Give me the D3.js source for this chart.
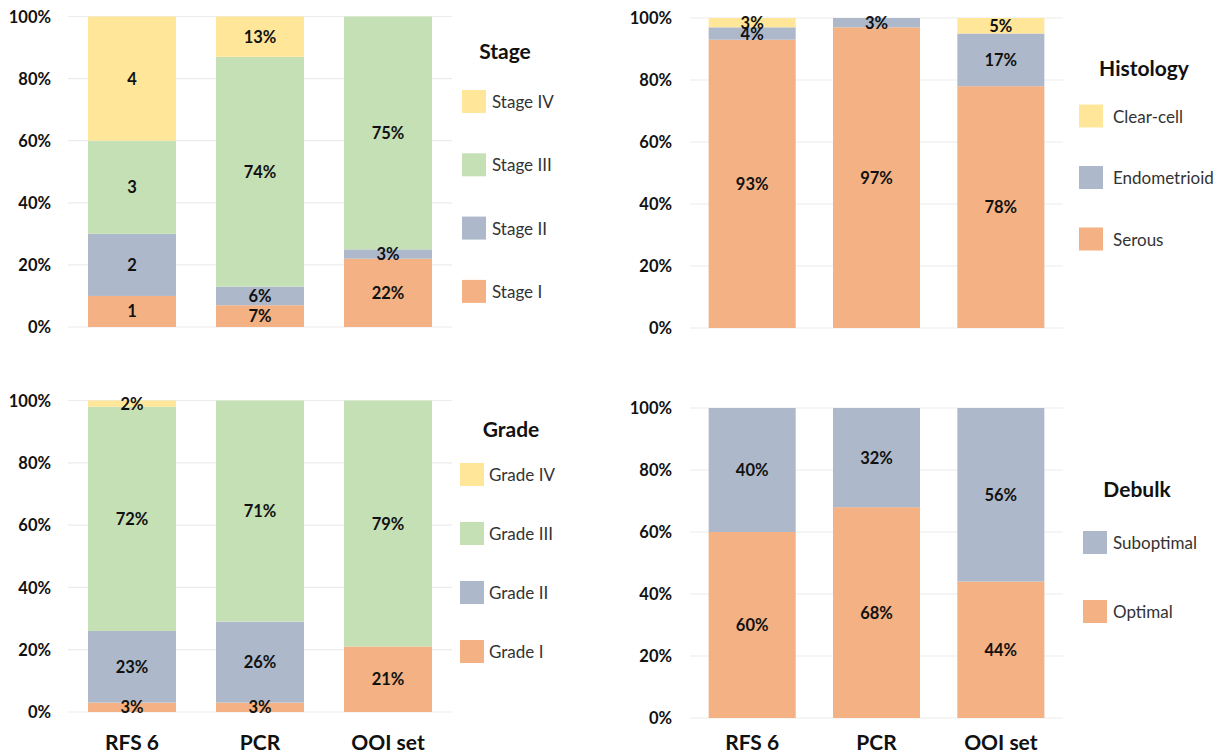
<!DOCTYPE html>
<html>
<head>
<meta charset="utf-8">
<script src="https://cdn.jsdelivr.net/npm/d3@7"></script>
<style>
  html, body { margin: 0; padding: 0; background: #ffffff; }
  svg { display: block; font-family: Lato, "Open Sans", sans-serif; }
</style>
</head>
<body>
<svg id="chart" width="1230" height="753"></svg>
<script>
// Cohorts compared in every panel
const categories = ["RFS 6", "PCR", "OOI set"];
const yTicks = [0, 0.2, 0.4, 0.6, 0.8, 1];

// Stage (RFS 6 column is given as patient counts, the others as percentages)
const stageSeries = ["Stage I", "Stage II", "Stage III", "Stage IV"];
const stageI = [1, 7, 22];
const stageII = [2, 6, 3];
const stageIII = [3, 74, 75];
const stageIV = [4, 13, 0];
const stageUnits = ["", "%", "%"];

// Histology (%)
const histologySeries = ["Serous", "Endometrioid", "Clear-cell"];
const serous = [93, 97, 78];
const endometrioid = [4, 3, 17];
const clearCell = [3, 0, 5];

// Grade (%)
const gradeSeries = ["Grade I", "Grade II", "Grade III", "Grade IV"];
const gradeI = [3, 3, 21];
const gradeII = [23, 26, 0];
const gradeIII = [72, 71, 79];
const gradeIV = [2, 0, 0];

// Debulking (%)
const debulkSeries = ["Optimal", "Suboptimal"];
const optimal = [60, 68, 44];
const suboptimal = [40, 32, 56];

const pctUnits = ["%", "%", "%"];

const COLORS = {
  orange: "#F4B183",
  blue: "#ADB9CA",
  green: "#C5E0B4",
  yellow: "#FFE699"
};

const svg = d3.select("#chart");

function drawPanel(cfg) {
  const g = svg.append("g");
  const rows = categories.map((c, i) => {
    const r = { category: c, index: i };
    cfg.series.forEach((s, k) => { r[s] = cfg.values[k][i]; });
    return r;
  });

  const x = d3.scaleBand()
    .domain(categories)
    .range(cfg.xRange)
    .paddingInner(cfg.padding)
    .paddingOuter(cfg.padding / 2);

  const y = d3.scaleLinear().domain([0, 1]).range(cfg.yRange);

  // horizontal gridlines
  g.append("g").selectAll("line")
    .data(yTicks)
    .join("line")
    .attr("x1", cfg.xRange[0])
    .attr("x2", cfg.xRange[1])
    .attr("y1", d => y(d))
    .attr("y2", d => y(d))
    .attr("stroke", "#ececec")
    .attr("stroke-width", 1.2);

  // y axis tick labels
  const yAxis = d3.axisLeft(y)
    .tickValues(yTicks)
    .tickFormat(d3.format(".0%"))
    .tickSize(0)
    .tickPadding(0);
  const ay = g.append("g")
    .attr("transform", `translate(${cfg.tickRight},0)`)
    .call(yAxis);
  ay.select(".domain").remove();
  ay.selectAll("text")
    .attr("font-family", "Lato, sans-serif")
    .attr("font-size", 16.5)
    .attr("font-weight", 700)
    .attr("fill", "#111")
    .attr("dy", "0.35em");

  // normalised stacks
  const stack = d3.stack().keys(cfg.series).offset(d3.stackOffsetExpand);
  const layers = stack(rows);

  const layerG = g.append("g").selectAll("g")
    .data(layers)
    .join("g")
    .attr("fill", (d, i) => cfg.colors[i]);

  layerG.selectAll("rect")
    .data(d => d.map(p => ({ p, key: d.key })))
    .join("rect")
    .attr("x", d => x(d.p.data.category))
    .attr("width", x.bandwidth())
    .attr("y", d => y(d.p[1]))
    .attr("height", d => Math.max(0, y(d.p[0]) - y(d.p[1])));

  // value labels centred in each segment
  const labelG = g.append("g");
  layers.forEach(layer => {
    layer.forEach(p => {
      const v = p.data[layer.key];
      if (!v) return;
      labelG.append("text")
        .attr("x", x(p.data.category) + x.bandwidth() / 2)
        .attr("y", y((p[0] + p[1]) / 2))
        .attr("text-anchor", "middle")
        .attr("dominant-baseline", "central")
        .attr("font-family", "Lato, sans-serif")
        .attr("font-size", 16.5)
        .attr("font-weight", 700)
        .attr("fill", "#111")
        .text(v + cfg.units[p.data.index]);
    });
  });

  // category axis (bottom row only)
  if (cfg.showCategories) {
    const xAxis = d3.axisBottom(x).tickSize(0).tickPadding(0);
    const ax = g.append("g")
      .attr("transform", `translate(0,${cfg.categoryY})`)
      .call(xAxis);
    ax.select(".domain").remove();
    ax.selectAll("text")
      .attr("font-family", "Lato, sans-serif")
      .attr("font-size", 21)
      .attr("font-weight", 700)
      .attr("fill", "#111")
      .attr("dy", "0.35em");
  }

  // legend
  const lg = g.append("g");
  lg.append("text")
    .attr("x", cfg.legend.titleX)
    .attr("y", cfg.legend.titleY)
    .attr("text-anchor", "middle")
    .attr("dominant-baseline", "central")
    .attr("font-family", "Lato, sans-serif")
    .attr("font-size", 21)
    .attr("font-weight", 700)
    .attr("fill", "#111")
    .text(cfg.title);

  const order = cfg.series.map((s, i) => ({ s, c: cfg.colors[i] })).reverse();
  const items = lg.selectAll("g.item")
    .data(order)
    .join("g")
    .attr("class", "item")
    .attr("transform", (d, i) => `translate(0,${cfg.legend.itemY0 + i * cfg.legend.itemStep})`);
  items.append("rect")
    .attr("x", cfg.legend.swatchX)
    .attr("y", -11.5)
    .attr("width", 24)
    .attr("height", 23)
    .attr("fill", d => d.c);
  items.append("text")
    .attr("x", cfg.legend.textX)
    .attr("y", 0)
    .attr("dominant-baseline", "central")
    .attr("font-family", "Lato, sans-serif")
    .attr("font-size", 17)
    .attr("fill", "#333")
    .text(d => d.s);
}

drawPanel({
  title: "Stage",
  series: stageSeries,
  values: [stageI, stageII, stageIII, stageIV],
  colors: [COLORS.orange, COLORS.blue, COLORS.green, COLORS.yellow],
  units: stageUnits,
  xRange: [68, 452], padding: 0.3125,
  yRange: [327, 16.5], tickRight: 51,
  showCategories: false,
  legend: { titleX: 505, titleY: 50, swatchX: 462, textX: 492, itemY0: 101.5, itemStep: 63.3 }
});

drawPanel({
  title: "Histology",
  series: histologySeries,
  values: [serous, endometrioid, clearCell],
  colors: [COLORS.orange, COLORS.blue, COLORS.yellow],
  units: pctUnits,
  xRange: [690, 1063], padding: 0.3,
  yRange: [328, 18], tickRight: 672,
  showCategories: false,
  legend: { titleX: 1144, titleY: 67, swatchX: 1079, textX: 1113, itemY0: 116, itemStep: 61.5 }
});

drawPanel({
  title: "Grade",
  series: gradeSeries,
  values: [gradeI, gradeII, gradeIII, gradeIV],
  colors: [COLORS.orange, COLORS.blue, COLORS.green, COLORS.yellow],
  units: pctUnits,
  xRange: [68, 452], padding: 0.3125,
  yRange: [712, 400.5], tickRight: 51,
  showCategories: true, categoryY: 743,
  legend: { titleX: 511, titleY: 428, swatchX: 460, textX: 489, itemY0: 474.5, itemStep: 59 }
});

drawPanel({
  title: "Debulk",
  series: debulkSeries,
  values: [optimal, suboptimal],
  colors: [COLORS.orange, COLORS.blue],
  units: pctUnits,
  xRange: [690, 1063], padding: 0.3,
  yRange: [718, 408], tickRight: 672,
  showCategories: true, categoryY: 743,
  legend: { titleX: 1137, titleY: 488, swatchX: 1083, textX: 1113, itemY0: 542.5, itemStep: 69 }
});
</script>
</body>
</html>
